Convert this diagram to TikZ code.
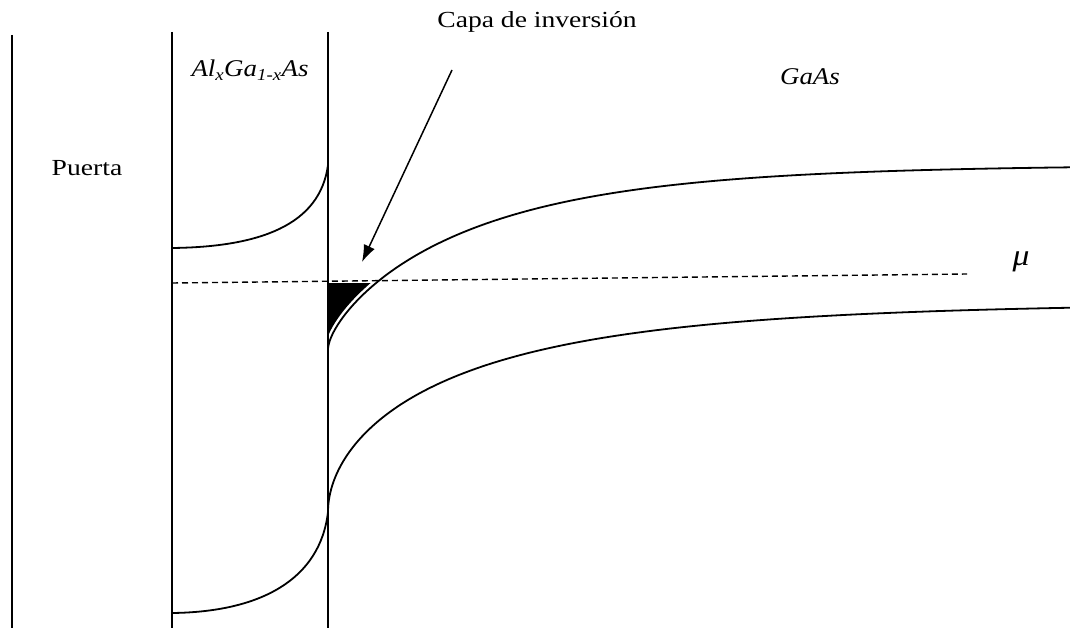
\documentclass[tikz,border=0pt]{standalone}
\usepackage{fontspec}
\setmainfont{Liberation Serif}
\newfontfamily\widefont[FakeStretch=1.2]{Liberation Serif}
\newfontfamily\wideit[FakeStretch=1.12]{Liberation Serif Italic}
\usetikzlibrary{arrows.meta}
\begin{document}
\begin{tikzpicture}[x=1pt,y=-1pt,
  band/.style={line width=1.8pt},
  wall/.style={line width=1.8pt},
  fermi/.style={line width=1.4pt,dash pattern=on 6pt off 4pt},
  lbl/.style={inner sep=0pt,font=\widefont\fontsize{23}{26}\selectfont},
  ilbl/.style={inner sep=0pt,font=\wideit\fontsize{24}{27}\selectfont}]
\useasboundingbox (0,0) rectangle (1070,628);
% walls
\draw[wall] (12,35) -- (12,628);
\draw[wall] (172,32) -- (172,628);
\draw[wall] (328,32) -- (328,628);
% inversion layer fill
\begin{scope}
  \clip (328,283) rectangle (400,400);
  \fill[shift={(-2.5,-2.5)}] plot[domain=0:8,samples=40]
     ({328+\x*\x},{165+185*exp(-(0.0322*\x+0.00472*\x*\x))})
     -- (392,240) -- (300,240) -- (300,360) -- cycle;
\end{scope}
% AlGaAs bands
\draw[band] (172,248) .. controls (260,247) and (320,225) .. (328,165);
\draw[band] (172,613) .. controls (260,612) and (320,580) .. (328,512);
% GaAs bands
\draw[band] plot[domain=0:27.24,samples=160]
  ({328+\x*\x},{165+185*exp(-(0.0322*\x+0.00472*\x*\x))});
\draw[band] plot[domain=0:27.24,samples=160]
  ({328+\x*\x},{303+209*exp(-(0.060*\x+0.0029*\x*\x))});
% Fermi level
\coordinate (fL) at (172,283);
\coordinate (fR) at (967,274);
\draw[fermi] (fL) -- (fR);
% labels
\node[lbl] (puerta) at (87,168) {Puerta};
\node[ilbl] (alga) at (250,70) {Al\textsubscript{x}Ga\textsubscript{1-x}As};
\node[ilbl] (gaas) at (810,77) {GaAs};
\node[ilbl,font=\wideit\fontsize{30}{32}\selectfont] (mu) at (1021,262) {μ};
\node[lbl] (capa) at (537,22) {Capa de inversión};
\coordinate (aS) at (452,70);
\coordinate (aT) at (362,262);
\draw[line width=1.5pt,-{Latex[length=17pt,width=12pt]}] (aS) -- (aT);
\end{tikzpicture}
\end{document}
